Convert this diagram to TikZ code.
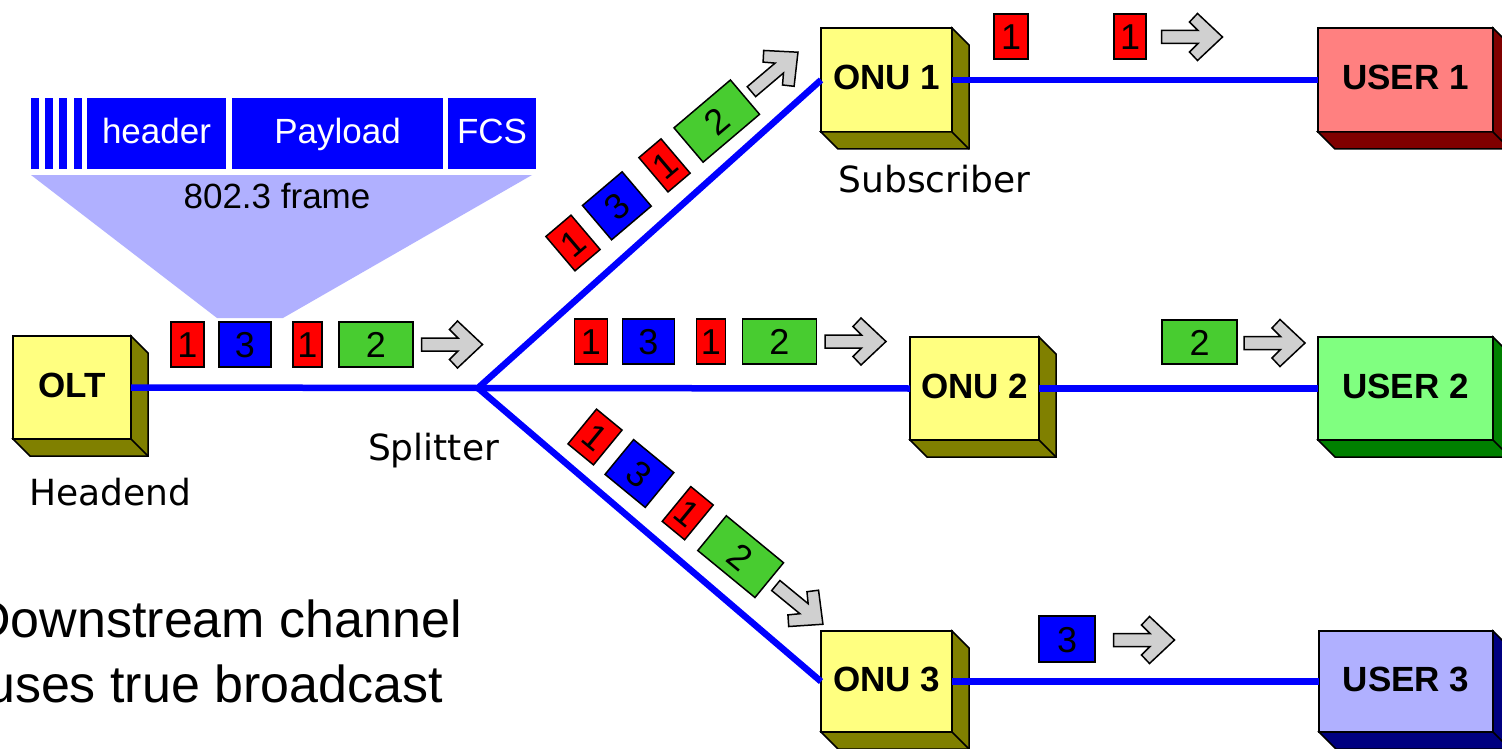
\documentclass[tikz,border=0pt]{standalone}
\usepackage{fontspec}
\usetikzlibrary{calc}
\newfontfamily\lsans{Liberation Sans}
\newfontfamily\dsans{DejaVu Sans}
\definecolor{onuface}{RGB}{255,255,128}
\definecolor{onuside}{RGB}{128,128,0}
\definecolor{uonefa}{RGB}{255,128,128}
\definecolor{uonesd}{RGB}{128,0,0}
\definecolor{utwofa}{RGB}{128,255,128}
\definecolor{utwosd}{RGB}{0,128,0}
\definecolor{uthrfa}{RGB}{176,176,255}
\definecolor{uthrsd}{RGB}{0,0,128}
\definecolor{pktgreen}{RGB}{72,204,48}
\definecolor{arrowgray}{RGB}{208,208,208}
\definecolor{framefill}{RGB}{176,176,255}
\newcommand\dropshade[2]{%
  \filldraw[fill=#2, draw=black, line width=1.5pt, line join=miter]
    (#1.north east) -- ($(#1.north east)+(17,17)$) -- ($(#1.south east)+(17,17)$)
    -- ($(#1.south west)+(17,17)$) -- (#1.south west) -- (#1.south east) -- cycle;
  \draw[black, line width=1.5pt] (#1.south east) -- ($(#1.south east)+(17,17)$);
}
\tikzset{
  box3d/.style={draw=black, line width=1.5pt, inner sep=0pt, outer sep=0pt,
    font=\lsans\bfseries\fontsize{35}{40}\selectfont, text height=25pt, text depth=5pt},
  pkt/.style={draw=black, line width=1.5pt, minimum height=45pt, inner sep=0pt, outer sep=0pt,
    font=\lsans\fontsize{36}{40}\selectfont, text height=26pt, text depth=0pt},
  fiber/.style={draw=blue, line width=6.5pt, line join=round},
  framebox/.style={fill=blue, minimum height=71pt, inner sep=0pt, outer sep=0pt, text=white,
    font=\lsans\fontsize{35}{40}\selectfont, text height=25pt, text depth=6pt},
  caption/.style={font=\dsans\fontsize{36}{40}\selectfont, inner sep=0pt, anchor=base},
  pics/fwdarrow/.style={code={
    \draw[fill=arrowgray, line width=1.5pt, line join=miter]
      (-30.5,-6.5) -- (6,-6.5) -- (-2.5,-15) -- (5.5,-23.5) -- (30.5,0)
      -- (5.5,23.5) -- (-2.5,15) -- (6,6.5) -- (-30.5,6.5) -- cycle;
  }},
  pics/pktrow/.style={code={
    \node[pkt, fill=red, minimum width=33pt] (-ra) at (0,0) {1};
    \node[pkt, fill=blue, minimum width=52pt] (-bc) at (57.5,0) {3};
    \node[pkt, fill=red, minimum width=29pt] (-rb) at (120,0) {1};
    \node[pkt, fill=pktgreen, minimum width=74pt] (-gd) at (188.5,0) {2};
    \pic at (264.5,0) {fwdarrow};
  }},
}
\begin{document}
\begin{tikzpicture}[x=1pt, y=-1pt]
\useasboundingbox (0,0) rectangle (1502,749);
\clip (0,0) rectangle (1502,749);
\fill[white] (0,0) rectangle (1502,749);

% 802.3 frame
\fill[framefill] (31,175) -- (532,175) -- (283,318) -- (217,318) -- cycle;
\foreach \a/\b in {31/39, 45/53, 59/67, 74/82} \fill[blue] (\a,98) rectangle (\b,169);
\node[framebox, minimum width=139pt] (hdr) at (156.5,133.5) {header};
\node[framebox, minimum width=211pt] (pay) at (337.5,133.5) {Payload};
\node[framebox, minimum width=88pt] (fcs) at (492,133.5) {FCS};
\node[font=\lsans\fontsize{35}{40}\selectfont, inner sep=0pt, anchor=base] (frm) at (277,208) {802.3 frame};

% boxes
\node[box3d, fill=onuface, minimum width=118pt, minimum height=103pt] (olt) at (72,387.5) {OLT};
\node[box3d, fill=onuface, minimum width=131pt, minimum height=104pt] (onu1) at (886.5,80) {ONU 1};
\node[box3d, fill=onuface, minimum width=129pt, minimum height=103pt] (onu2) at (974.5,388.5) {ONU 2};
\node[box3d, fill=onuface, minimum width=131pt, minimum height=101pt] (onu3) at (886.5,681.5) {ONU 3};
\node[box3d, fill=uonefa, minimum width=175pt, minimum height=104pt] (user1) at (1405.5,80) {USER 1};
\node[box3d, fill=utwofa, minimum width=175pt, minimum height=103pt] (user2) at (1405.5,388.5) {USER 2};
\node[box3d, fill=uthrfa, minimum width=174pt, minimum height=101pt] (user3) at (1406,681.5) {USER 3};
\dropshade{olt}{onuside}
\dropshade{onu1}{onuside}
\dropshade{onu2}{onuside}
\dropshade{onu3}{onuside}
\dropshade{user1}{uonesd}
\dropshade{user2}{utwosd}
\dropshade{user3}{uthrsd}

% fibers
\coordinate (split) at (478,388);
\draw[fiber] (olt.east) -- (split) -- (onu2.west);
\draw[fiber] (onu1.west) -- (split) -- (onu3.west);
\draw[fiber] (onu1.east) -- (user1.west);
\draw[fiber] (onu2.east) -- (user2.west);
\draw[fiber] (onu3.east) -- (user3.west);

% captions
\node[caption] (head) at (110,505) {Headend};
\node[caption] (splt) at (433.5,460) {Splitter};
\node[caption] (subs) at (934.5,193) {Subscriber};

% packet rows
\pic (rowa) at (187.5,344.5) {pktrow};
\pic (rowb) at (591,341.5) {pktrow};
\pic[rotate=40.3, transform shape] (rowc) at (573,243) {pktrow};
\pic[rotate=-39.4, transform shape] (rowd) at (595,437) {pktrow};

% delivered packets
\node[pkt, fill=red, minimum width=34pt] (pa) at (1011,36.5) {1};
\node[pkt, fill=red, minimum width=32pt] (pb) at (1130,36.5) {1};
\pic at (1192,37) {fwdarrow};
\node[pkt, fill=pktgreen, minimum width=75pt, minimum height=44pt] (pc) at (1199.5,342) {2};
\pic at (1274.5,343) {fwdarrow};
\node[pkt, fill=blue, minimum width=56pt, minimum height=46pt] (pd) at (1067,639) {3};
\pic at (1144,640) {fwdarrow};

% statement
\node[font=\lsans\fontsize{52}{60}\selectfont, inner sep=0pt, anchor=base east] (bca) at (462,637) {Downstream channel};
\node[font=\lsans\fontsize{52}{60}\selectfont, inner sep=0pt, anchor=base east] (bcb) at (443,702) {uses true broadcast};
\end{tikzpicture}
\end{document}
